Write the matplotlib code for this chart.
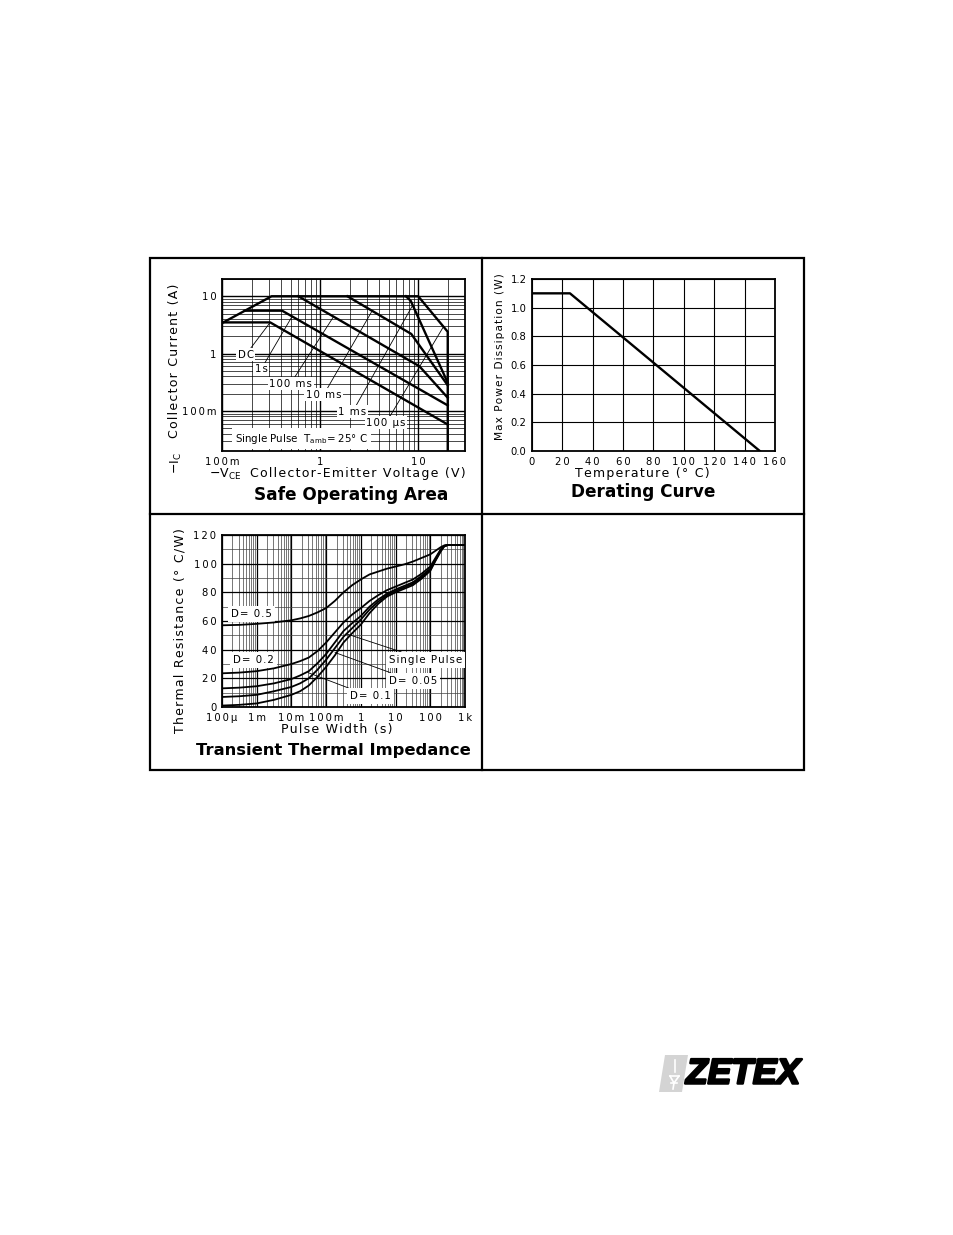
import numpy as np
from matplotlib import pyplot as plt
from matplotlib import patheffects
from matplotlib.patches import Rectangle, Polygon
from matplotlib.lines import Line2D
from matplotlib.ticker import LogLocator, NullFormatter, MultipleLocator

plt.rcParams['font.family'] = ['DejaVu Sans']

W, H = 954, 1235

# Safe operating area, -VCE (V) vs -IC (A)
dc_v = [0.1, 0.31, 20]
dc_i = [3.5, 3.5, 0.058]
s1_v = [0.17, 0.41, 20]
s1_i = [5.6, 5.6, 0.125]
ms100_v = [0.6, 10.3, 20]
ms100_i = [10, 0.6, 0.17]
ms10_v = [1.9, 8.5, 20]
ms10_i = [10, 2.2, 0.28]
ms1_v = [7.5, 8.4, 20]
ms1_i = [10, 8.3, 0.31]
us100_v = [0.1, 0.32, 10, 20, 20]
us100_i = [3.4, 10, 10, 2.4, 0.02]

soa_names = ["DC", "1s", "100 ms", "10 ms", "1 ms", "100 µs"]
soa_lab_v = [0.175, 0.25, 0.50, 1.09, 2.14, 4.7]
soa_lab_i = [0.96, 0.53, 0.30, 0.193, 0.096, 0.062]
soa_tip_v = [0.31, 0.52, 1.37, 3.4, 8.8, 18]
soa_tip_i = [3.5, 4.5, 4.4, 5.6, 7.0, 2.9]

# Derating curve
temp = [0, 25, 150]
pmax = [1.1, 1.1, 0.0]

# Transient thermal impedance, log10(pulse width) vs degC/W
t_log = [-4, -3.5, -3, -2.5, -2, -1.75, -1.5, -1.25, -1, -0.75, -0.5, -0.25, 0,
         0.25, 0.5, 0.75, 1, 1.25, 1.5, 1.75, 2, 2.15, 2.3, 2.4, 2.5, 3]
r_d05 = [57, 57.3, 58, 59, 60.5, 61.8, 63.5, 66, 69, 74, 80, 85, 89,
         92.5, 94.5, 96.5, 98, 99.5, 101.5, 104, 106.5, 109, 111.5, 112.7, 113, 113]
r_d02 = [23.5, 24, 25, 27, 30, 32, 34.5, 39, 45, 52, 59, 64.5, 69,
         74, 78, 81.5, 84, 86.5, 89, 93, 98, 104, 110, 112.5, 113, 113]
r_d01 = [13, 13.5, 14.5, 16.5, 19.5, 22, 25, 30.5, 37, 45, 53, 58.5, 63.5,
         70, 75, 79, 82, 84.5, 87, 91.5, 96.5, 103, 109.5, 112.3, 113, 113]
r_d005 = [7, 7.5, 8.5, 11, 14, 16.5, 20, 26, 33, 41, 49, 55, 61,
          68, 73.5, 78, 81, 83.5, 86, 90.5, 95.5, 102.5, 109, 112.2, 113, 113]
r_single = [1, 1.5, 2.5, 5, 8.5, 11, 15, 21, 28, 36, 45, 51.5, 57.5,
            65.5, 72, 77, 80, 82.5, 85, 89.5, 95, 102, 108.5, 112, 113, 113]

th_names = ["D= 0.5", "D= 0.2", "Single Pulse", "D= 0.05", "D= 0.1"]
th_lab_t = [6.9e-4, 8.1e-4, 74, 32, 1.86]
th_lab_r = [65, 32.8, 32.8, 18.2, 7.5]
th_tip_t = [None, None, 0.39, 0.18, 0.03]
th_tip_r = [None, None, 51, 38, 24]


def sp(s, c='\u200a'):
    return c.join(s)


def box(x0, y0, x1, y1):
    return [x0 / W, 1 - y1 / H, (x1 - x0) / W, (y1 - y0) / H]


def ftext(x, y, s, **kw):
    fig.text(x / W, 1 - y / H, s, **kw)


fig = plt.figure(figsize=(9.54, 12.35), dpi=100)

# outer frame
fig.add_artist(Rectangle((150 / W, 1 - 770 / H), 654 / W, 512 / H, transform=fig.transFigure,
                         fill=False, ec='k', lw=1.6))
fig.add_artist(Line2D([482 / W, 482 / W], [1 - 258 / H, 1 - 770 / H], color='k', lw=1.6))
fig.add_artist(Line2D([150 / W, 804 / W], [1 - 514 / H, 1 - 514 / H], color='k', lw=1.6))

tick_fs = 7.2
lab_fs = 9.0
title_fs = 12.2
ann_fs = 7.4
TS = '\u2009'

# ---------------- safe operating area ----------------
ax1 = fig.add_axes(box(222, 279, 465, 451))
for v, i in [(dc_v, dc_i), (s1_v, s1_i), (ms100_v, ms100_i), (ms10_v, ms10_i),
             (ms1_v, ms1_i), (us100_v, us100_i)]:
    ax1.plot(v, i, color='k', lw=1.7, zorder=4)
ax1.set_xscale('log')
ax1.set_yscale('log')
ax1.set_xlim(0.1, 30)
ax1.set_ylim(0.02, 20)
ax1.xaxis.set_minor_locator(LogLocator(base=10, subs=np.arange(2, 10)))
ax1.yaxis.set_minor_locator(LogLocator(base=10, subs=np.arange(2, 10)))
ax1.xaxis.set_minor_formatter(NullFormatter())
ax1.yaxis.set_minor_formatter(NullFormatter())
ax1.set_xticks([0.1, 1, 10], [sp('100m', TS), '1', sp('10', TS)])
ax1.set_yticks([0.1, 1, 10], [sp('100m', TS), '1', sp('10', TS)])
ax1.grid(which='major', color='k', lw=1.0)
ax1.grid(which='minor', color='k', lw=0.5)
ax1.set_axisbelow(True)
ax1.tick_params(which='both', length=0, labelsize=tick_fs, pad=4)
for name, lv, li, tv, ti in zip(soa_names, soa_lab_v, soa_lab_i, soa_tip_v, soa_tip_i):
    ax1.annotate(sp(name), xy=(tv, ti), xytext=(lv, li), ha='center', va='center',
                 fontsize=ann_fs, zorder=3,
                 bbox=dict(boxstyle='square,pad=0.15', fc='white', ec='none'),
                 arrowprops=dict(arrowstyle='-', color='k', lw=0.6, shrinkA=0, shrinkB=0))
ax1.text(0.136, 0.033, r'Single Pulse  T$\mathregular{_{amb}}$= 25° C', fontsize=ann_fs,
         ha='left', va='center', zorder=3,
         bbox=dict(boxstyle='square,pad=0.3', fc='white', ec='none'))
for s in ax1.spines.values():
    s.set_linewidth(1.3)

ftext(175, 361, sp('Collector Current (A)'), rotation=90, ha='center', va='center', fontsize=lab_fs)
ftext(176, 463, r'$\mathregular{-I_C}$', rotation=90, ha='center', va='center', fontsize=lab_fs)
ftext(225, 474, r'$\mathregular{-V_{CE}}$', ha='center', va='center', fontsize=lab_fs)
ftext(250, 474, sp('Collector-Emitter Voltage (V)'), ha='left', va='center', fontsize=lab_fs)
ftext(351, 495, 'Safe Operating Area', ha='center', va='center', fontsize=title_fs,
      fontweight='bold')

# ---------------- derating curve ----------------
ax2 = fig.add_axes(box(532, 279, 775, 451))
ax2.plot(temp, pmax, color='k', lw=1.7, zorder=4)
ax2.set_xlim(0, 160)
ax2.set_ylim(0, 1.2)
xt = np.arange(0, 161, 20)
yt = np.round(np.arange(0, 1.21, 0.2), 1)
ax2.set_xticks(xt, [sp(str(v), TS) for v in xt])
ax2.set_yticks(yt, ['%.1f' % v for v in yt])
ax2.grid(color='k', lw=0.8)
ax2.set_axisbelow(True)
ax2.tick_params(length=0, labelsize=tick_fs, pad=4)
for s in ax2.spines.values():
    s.set_linewidth(1.3)
ftext(500, 357, sp('Max Power Dissipation (W)'), rotation=90, ha='center', va='center',
      fontsize=7.7)
ftext(642, 474, sp('Temperature (° C)'), ha='center', va='center', fontsize=lab_fs)
ftext(643, 492, 'Derating Curve', ha='center', va='center', fontsize=title_fs,
      fontweight='bold')

# ---------------- transient thermal impedance ----------------
ax3 = fig.add_axes(box(222, 535, 465, 707))
t = 10.0 ** np.array(t_log)
for r in [r_d05, r_d02, r_d01, r_d005, r_single]:
    ax3.plot(t, r, color='k', lw=1.3, zorder=4)
ax3.set_xscale('log')
ax3.set_xlim(1e-4, 1e3)
ax3.set_ylim(0, 120)
ax3.xaxis.set_minor_locator(LogLocator(base=10, subs=np.arange(2, 10)))
ax3.xaxis.set_minor_formatter(NullFormatter())
ax3.yaxis.set_minor_locator(MultipleLocator(10))
ax3.set_xticks([1e-4, 1e-3, 1e-2, 1e-1, 1, 10, 100, 1000],
               [sp(s, TS) for s in ['100µ', '1m', '10m', '100m', '1', '10', '100', '1k']])
ax3.set_yticks(np.arange(0, 121, 20), [sp(str(v), TS) for v in range(0, 121, 20)])
ax3.grid(which='major', color='k', lw=0.9)
ax3.grid(which='minor', color='0.25', lw=0.5)
ax3.set_axisbelow(True)
ax3.tick_params(which='both', length=0, labelsize=tick_fs, pad=4)
for name, lt, lr, tt, tr in zip(th_names, th_lab_t, th_lab_r, th_tip_t, th_tip_r):
    bb = dict(boxstyle='square,pad=0.3', fc='white', ec='none')
    if tt is None:
        ax3.text(lt, lr, sp(name), ha='center', va='center', fontsize=ann_fs, zorder=3, bbox=bb)
    else:
        ax3.annotate(sp(name), xy=(tt, tr), xytext=(lt, lr), ha='center', va='center',
                     fontsize=ann_fs, zorder=3, bbox=bb,
                     arrowprops=dict(arrowstyle='-', color='k', lw=0.6, shrinkA=0, shrinkB=0))
for s in ax3.spines.values():
    s.set_linewidth(1.3)
ftext(180, 631, sp('Thermal Resistance (° C/W)'), rotation=90, ha='center', va='center',
      fontsize=lab_fs)
ftext(337, 729, sp('Pulse Width (s)'), ha='center', va='center', fontsize=lab_fs)
ftext(333, 750, 'Transient Thermal Impedance', ha='center', va='center', fontsize=11.8,
      fontweight='bold')

# ---------------- logo ----------------
fig.add_artist(Polygon([(665 / W, 1 - 1055 / H), (688 / W, 1 - 1055 / H),
                        (682 / W, 1 - 1092 / H), (659 / W, 1 - 1092 / H)],
                       closed=True, transform=fig.transFigure, fc='#d4d4d4', ec='none'))
for xs, ys in [([675, 675], [1060, 1072]), ([670, 679], [1076, 1076]),
               ([670, 674], [1076, 1083]), ([679, 674], [1076, 1083]),
               ([674, 673], [1083, 1089]), ([671, 677], [1083, 1083])]:
    fig.add_artist(Line2D([x / W for x in xs], [1 - y / H for y in ys], color='white', lw=1.2))
ftext(686, 1074, 'ZETEX', ha='left', va='center', fontsize=25.5, fontweight='bold',
      fontstyle='italic', family=['Liberation Sans'],
      path_effects=[patheffects.withStroke(linewidth=1.8, foreground='k')])

fig.savefig('out.png', dpi=100)
